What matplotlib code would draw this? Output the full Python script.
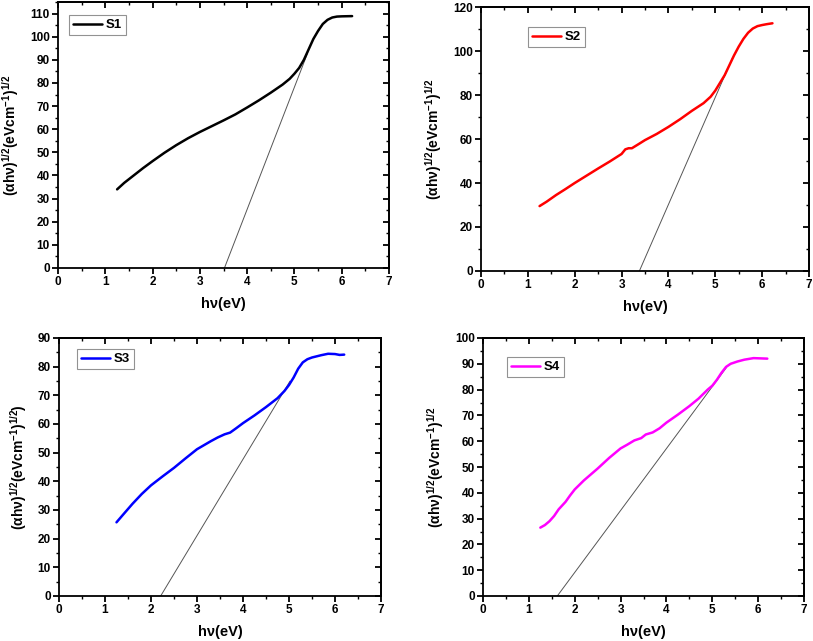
import matplotlib
matplotlib.use("Agg")
import matplotlib.pyplot as plt
from matplotlib.ticker import MultipleLocator

plt.rcParams['font.family'] = ['Liberation Sans', 'DejaVu Sans']
plt.rcParams['font.weight'] = 'bold'
plt.rcParams['mathtext.fontset'] = 'custom'
plt.rcParams['mathtext.rm'] = 'Liberation Sans:bold'
plt.rcParams['mathtext.bf'] = 'Liberation Sans:bold'
plt.rcParams['mathtext.it'] = 'Liberation Sans:bold'
plt.rcParams['mathtext.default'] = 'rm'

# ---- data ----
s1_x = [1.25, 1.4, 1.6, 1.8, 2.0, 2.25, 2.5, 2.75, 3.0, 3.25, 3.5, 3.75, 4.0, 4.25, 4.5, 4.75, 4.9,
        5.0, 5.1, 5.2, 5.3, 5.4, 5.5, 5.6, 5.7, 5.8, 5.9, 6.0, 6.22]
s1_y = [34, 36.8, 40, 43.2, 46.2, 49.8, 53.1, 56.1, 58.8, 61.3, 63.8, 66.4, 69.4, 72.5, 75.8, 79.3, 81.8,
        84, 86.5, 90, 94.5, 99, 102.5, 105.5, 107.3, 108.3, 108.7, 108.8, 108.9]
t1_x = [3.52, 5.28]
t1_y = [0, 93]

s2_x = [1.25, 1.4, 1.6, 1.8, 2.0, 2.25, 2.5, 2.75, 3.0, 3.08, 3.15, 3.22, 3.35, 3.5, 3.75, 4.0, 4.25,
        4.5, 4.75, 4.9, 5.0, 5.1, 5.2, 5.3, 5.4, 5.5, 5.6, 5.7, 5.8, 5.9, 6.0, 6.1, 6.22]
s2_y = [29.5, 31.5, 34.5, 37.2, 40, 43.3, 46.6, 49.8, 53.2, 55.3, 55.8, 55.8, 57.5, 59.5, 62.3, 65.5, 69,
        72.8, 76.3, 79.2, 82, 85.5, 89, 93.5, 98, 102, 105.5, 108.3, 110.2, 111.3, 111.8, 112.2, 112.6]
t2_x = [3.38, 5.37]
t2_y = [0, 97]

s3_x = [1.25, 1.4, 1.6, 1.8, 2.0, 2.25, 2.5, 2.75, 3.0, 3.15, 3.3, 3.45, 3.6, 3.72, 3.85, 4.0, 4.25,
        4.5, 4.75, 4.9, 5.0, 5.1, 5.2, 5.3, 5.4, 5.5, 5.7, 5.85, 6.0, 6.1, 6.2]
s3_y = [25.7, 28.5, 32.2, 35.6, 38.6, 41.7, 44.7, 48, 51.2, 52.6, 54, 55.3, 56.4, 57, 58.5, 60.3, 63,
        65.9, 69, 71.5, 73.6, 76.2, 79.3, 81.5, 82.6, 83.2, 84, 84.5, 84.4, 84.1, 84.2]
t3_x = [2.21, 5.02]
t3_y = [0, 74.9]

s4_x = [1.25, 1.35, 1.45, 1.55, 1.65, 1.8, 1.9, 2.0, 2.2, 2.5, 2.75, 3.0, 3.15, 3.3, 3.45, 3.55, 3.7,
        3.85, 4.0, 4.25, 4.5, 4.7, 4.9, 5.0, 5.1, 5.2, 5.3, 5.4, 5.55, 5.7, 5.9, 6.05, 6.2]
s4_y = [26.5, 27.5, 29, 31, 33.6, 36.5, 39, 41.3, 44.8, 49.4, 53.5, 57.2, 58.7, 60.3, 61.2, 62.6, 63.4,
        65, 67.2, 70.3, 73.6, 76.5, 80, 81.5, 83.8, 86.5, 88.8, 90, 90.9, 91.6, 92.2, 92.1, 92]
t4_x = [1.62, 5.31]
t4_y = [0, 88.6]

ylab = r'(αhν)$^{1/2}$(eVcm$^{-1}$)$^{1/2}$'
ylab3 = r'(αhν)$^{1/2}$(eVcm$^{-1}$)$^{1/2}$)'

W, H = 813, 641
fig = plt.figure(figsize=(W/100, H/100), dpi=100)

panels = [
    dict(box=(58, 2, 389, 268), x=s1_x, y=s1_y, tx=t1_x, ty=t1_y, c='black', lab='S1',
         ylim=(0, 115), ystep=10, yl=ylab, leg=(69, 15, 125, 35)),
    dict(box=(481, 7, 809, 271), x=s2_x, y=s2_y, tx=t2_x, ty=t2_y, c='#ff0000', lab='S2',
         ylim=(0, 120), ystep=20, yl=ylab, leg=(528, 27, 584, 47)),
    dict(box=(59, 338, 381, 596), x=s3_x, y=s3_y, tx=t3_x, ty=t3_y, c='#0000ff', lab='S3',
         ylim=(0, 90), ystep=10, yl=ylab3, leg=(77, 349, 131, 369)),
    dict(box=(483, 338, 804, 596), x=s4_x, y=s4_y, tx=t4_x, ty=t4_y, c='#ff00ff', lab='S4',
         ylim=(0, 100), ystep=10, yl=ylab, leg=(507, 357, 561, 376)),
]

for p in panels:
    l, t, r, b = p['box']
    ax = fig.add_axes([l/W, 1-b/H, (r-l)/W, (b-t)/H])
    ax.plot(p['tx'], p['ty'], color='#555555', lw=0.7, zorder=2)
    ax.plot(p['x'], p['y'], color=p['c'], lw=1.8, label=p['lab'], zorder=3,
            solid_joinstyle='round', solid_capstyle='round')
    ax.set_xlim(0, 7)
    ax.set_ylim(*p['ylim'])
    ax.xaxis.set_major_locator(MultipleLocator(1))
    ax.xaxis.set_minor_locator(MultipleLocator(0.5))
    ax.yaxis.set_major_locator(MultipleLocator(p['ystep']))
    ax.yaxis.set_minor_locator(MultipleLocator(p['ystep']/2))
    ax.tick_params(which='major', direction='out', length=4, width=1.3, labelsize=8.5, pad=2)
    ax.tick_params(which='minor', direction='out', length=2, width=1.0)
    for s in ax.spines.values():
        s.set_linewidth(1.3)
    for lbl in ax.get_xticklabels() + ax.get_yticklabels():
        lbl.set_fontweight('bold')
    secx = ax.secondary_xaxis('top')
    secx.xaxis.set_major_locator(MultipleLocator(1))
    secx.xaxis.set_minor_locator(MultipleLocator(0.5))
    secx.tick_params(which='major', direction='in', length=4, width=1.3, labeltop=False)
    secx.tick_params(which='minor', direction='in', length=2, width=1.0)
    secy = ax.secondary_yaxis('right')
    secy.yaxis.set_major_locator(MultipleLocator(p['ystep']))
    secy.yaxis.set_minor_locator(MultipleLocator(p['ystep']/2))
    secy.tick_params(which='major', direction='in', length=4, width=1.3, labelright=False)
    secy.tick_params(which='minor', direction='in', length=2, width=1.0)
    for sa in (secx, secy):
        for s in sa.spines.values():
            s.set_linewidth(1.3)
    ax.set_xlabel('hν(eV)', fontsize=10.5, fontweight='bold', labelpad=6)
    ax.set_ylabel(p['yl'], fontsize=10, fontweight='bold', labelpad=6)
    ll, lt, lr, lb = p['leg']
    leg = ax.legend(loc='upper left',
                    bbox_to_anchor=((ll - l)/(r - l), 1 - (lt - t)/(b - t)),
                    frameon=True, fancybox=False, edgecolor='#777777',
                    handlelength=2.2, borderpad=0.3, borderaxespad=0,
                    handletextpad=0.3, prop={'weight': 'bold', 'size': 9.5})
    leg.get_frame().set_linewidth(0.8)

fig.savefig('out.png', dpi=100)
